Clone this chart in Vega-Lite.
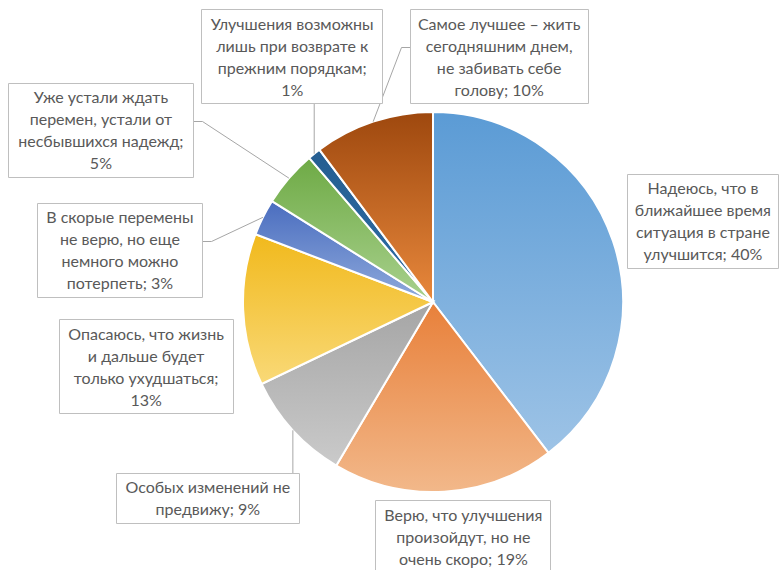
{
  "$schema": "https://vega.github.io/schema/vega-lite/v6.json",
  "width": 600,
  "height": 520,
  "autosize": {"type": "none"},
  "padding": {"left": 133, "top": 42, "right": 46, "bottom": 8},
  "background": "white",
  "config": {"view": {"stroke": null}},
  "data": {
    "values": [
      {"n": 1, "value": 39.6, "answer": "Надеюсь, что в\nближайшее время\nситуация в стране\nулучшится; 40%"},
      {"n": 2, "value": 18.9, "answer": "Верю, что улучшения\nпроизойдут, но не\nочень скоро; 19%"},
      {"n": 3, "value": 9.4, "answer": "Особых изменений не\nпредвижу; 9%"},
      {"n": 4, "value": 12.9, "answer": "Опасаюсь, что жизнь\nи дальше будет\nтолько ухудшаться;\n13%"},
      {"n": 5, "value": 3.1, "answer": "В скорые перемены\nне верю, но еще\nнемного можно\nпотерпеть; 3%"},
      {"n": 6, "value": 4.8, "answer": "Уже устали ждать\nперемен, устали от\nнесбывшихся надежд;\n5%"},
      {"n": 7, "value": 1.1, "answer": "Улучшения возможны\nлишь при возврате к\nпрежним порядкам;\n1%"},
      {"n": 8, "value": 10.2, "answer": "Самое лучшее – жить\nсегодняшним днем,\nне забивать себе\nголову; 10%"}
    ]
  },
  "transform": [
    {"joinaggregate": [{"op": "sum", "field": "value", "as": "total"}]},
    {"window": [{"op": "sum", "field": "value", "as": "cum"}], "sort": [{"field": "n"}], "frame": [null, 0]},
    {"calculate": "2*PI*(datum.cum - datum.value/2)/datum.total", "as": "mid"},
    {"calculate": "190*sin(datum.mid)", "as": "ax"},
    {"calculate": "-190*cos(datum.mid)", "as": "ay"},
    {"calculate": "datum.ax + [90,19,-85,-97,-143,-188,-22,126][datum.n-1]", "as": "bx"},
    {"calculate": "datum.ay + [-20,45,68,57,33,-48,-97,-65][datum.n-1]", "as": "by"},
    {"calculate": "[151,175,183,174,165,185,181,178][datum.n-1]/2", "as": "hw"},
    {"calculate": "length(split(datum.answer, '\\n'))", "as": "nl"},
    {"calculate": "(datum.nl*22+6)/2", "as": "hh"},
    {"calculate": "datum.by - (datum.nl-1)*11 + 1", "as": "texty"},
    {"calculate": "floor(datum.bx-datum.hw)+0.5", "as": "l"},
    {"calculate": "floor(datum.bx+datum.hw)+0.5", "as": "r"},
    {"calculate": "floor(datum.by-datum.hh)+0.5", "as": "t"},
    {"calculate": "floor(datum.by+datum.hh)+0.5", "as": "b"},
    {"calculate": "clamp(datum.ax, datum.l, datum.r)", "as": "cx"},
    {"calculate": "clamp(datum.ay, datum.t, datum.b)", "as": "cy"},
    {"calculate": "sqrt(pow(datum.ax-datum.cx,2)+pow(datum.ay-datum.cy,2))", "as": "dist"},
    {"calculate": "abs(datum.ax-datum.bx) > datum.hw", "as": "side"},
    {"calculate": "datum.ax > datum.bx ? 1 : -1", "as": "sgn"},
    {"calculate": "datum.side ? (datum.sgn > 0 ? datum.r : datum.l) : datum.ax", "as": "tx"},
    {"calculate": "datum.side ? floor(datum.by - 9)+0.5 : (datum.ay > datum.by ? datum.b : datum.t)", "as": "ty"},
    {"calculate": "datum.side ? datum.tx + datum.sgn*9 : datum.tx", "as": "ex"}
  ],
  "layer": [
    {
      "mark": {"type": "arc", "radius": 190, "stroke": "white", "strokeWidth": 2},
      "encoding": {
        "theta": {"field": "value", "type": "quantitative", "stack": true},
        "order": {"field": "n", "type": "quantitative"},
        "detail": {"field": "n", "type": "nominal"},
        "fill": {
          "condition": [
            {"test": "datum.n == 1", "value": {"gradient": "linear", "x1": 0, "y1": 0, "x2": 0, "y2": 1, "stops": [{"offset": 0, "color": "#5B9BD5"}, {"offset": 1, "color": "#9DC3E6"}]}},
            {"test": "datum.n == 2", "value": {"gradient": "linear", "x1": 0, "y1": 0, "x2": 0, "y2": 1, "stops": [{"offset": 0, "color": "#E8803A"}, {"offset": 1, "color": "#F2B88A"}]}},
            {"test": "datum.n == 3", "value": {"gradient": "linear", "x1": 0, "y1": 0, "x2": 0, "y2": 1, "stops": [{"offset": 0, "color": "#A5A5A5"}, {"offset": 1, "color": "#CACACA"}]}},
            {"test": "datum.n == 4", "value": {"gradient": "linear", "x1": 0, "y1": 0, "x2": 0, "y2": 1, "stops": [{"offset": 0, "color": "#F1B91C"}, {"offset": 1, "color": "#F9D977"}]}},
            {"test": "datum.n == 5", "value": {"gradient": "linear", "x1": 0, "y1": 0, "x2": 0, "y2": 1, "stops": [{"offset": 0, "color": "#4A6DBF"}, {"offset": 1, "color": "#8FAADC"}]}},
            {"test": "datum.n == 6", "value": {"gradient": "linear", "x1": 0, "y1": 0, "x2": 0, "y2": 1, "stops": [{"offset": 0, "color": "#6EAA45"}, {"offset": 1, "color": "#A9D18E"}]}},
            {"test": "datum.n == 7", "value": {"gradient": "linear", "x1": 0, "y1": 0, "x2": 0, "y2": 1, "stops": [{"offset": 0, "color": "#255E91"}, {"offset": 1, "color": "#2D6CA6"}]}},
            {"test": "datum.n == 8", "value": {"gradient": "linear", "x1": 0, "y1": 0, "x2": 0, "y2": 1, "stops": [{"offset": 0, "color": "#9E480E"}, {"offset": 1, "color": "#E8883C"}]}}
          ],
          "value": "#999999"
        }
      }
    },
    {
      "transform": [{"filter": "datum.dist > 25"}],
      "mark": {"type": "rule", "stroke": "#A6A6A6", "strokeWidth": 1},
      "encoding": {
        "x": {"field": "ax", "type": "quantitative", "axis": null, "scale": {"domain": [-300, 300], "nice": false, "zero": false}},
        "y": {"field": "ay", "type": "quantitative", "axis": null, "scale": {"domain": [-260, 260], "nice": false, "zero": false, "reverse": true}},
        "x2": {"field": "ex"},
        "y2": {"field": "ty"}
      }
    },
    {
      "transform": [{"filter": "datum.dist > 25 && datum.side"}],
      "mark": {"type": "rule", "stroke": "#A6A6A6", "strokeWidth": 1},
      "encoding": {
        "x": {"field": "ex", "type": "quantitative", "axis": null},
        "y": {"field": "ty", "type": "quantitative", "axis": null},
        "x2": {"field": "tx"},
        "y2": {"field": "ty"}
      }
    },
    {
      "mark": {"type": "rect", "fill": "white", "stroke": "#BFBFBF", "strokeWidth": 1},
      "encoding": {
        "x": {"field": "l", "type": "quantitative", "axis": null},
        "x2": {"field": "r"},
        "y": {"field": "t", "type": "quantitative", "axis": null},
        "y2": {"field": "b"}
      }
    },
    {
      "mark": {"type": "text", "align": "center", "baseline": "middle", "lineBreak": "\n", "lineHeight": 22, "font": "Lato", "fontSize": 16, "fill": "#595959"},
      "encoding": {
        "x": {"field": "bx", "type": "quantitative", "axis": null},
        "y": {"field": "texty", "type": "quantitative", "axis": null},
        "text": {"field": "answer"}
      }
    }
  ]
}
